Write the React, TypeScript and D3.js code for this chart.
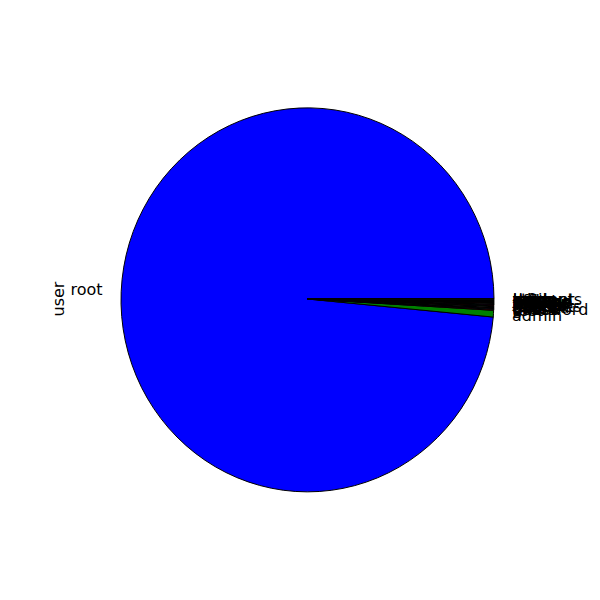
import { useRef, useEffect } from "react";
import * as d3 from "d3";

// usernames and counts (value_counts, descending)
const users = [
  "root", "admin", "test", "password", "guest", "oracle", "user1", "ubuntu",
  "postgres", "support", "ftpuser", "nagios", "git", "mysql", "pi", "ftp",
  "tomcat", "info", "www", "backup", "jenkins", "hadoop", "deploy", "apache",
  "demo", "web", "sales", "office", "john", "mail", "temp", "vagrant",
  "dev", "students", "ts3", "mc",
];
const counts = [
  9850, 56, 8, 7, 6, 5, 5, 4, 4, 4, 3, 3, 3, 3, 3, 3, 3, 2, 2, 2, 2, 2, 2, 2,
  2, 2, 2, 2, 1, 1, 1, 1, 1, 1, 1, 1,
];
const seriesName = "user";

// matplotlib classic colour cycle
const colors = ["#0000ff", "#008000", "#ff0000", "#00bfbf", "#bf00bf", "#bfbf00", "#000000", "#ffffff"];

type Slice = { name: string; value: number };

export default function App() {
  const ref = useRef<SVGSVGElement>(null);

  useEffect(() => {
    if (!ref.current) return;
    const svg = d3.select(ref.current);
    svg.selectAll("*").remove();

    const cx = 307.5;
    const cy = 299;
    const rx = 186.5;
    const ry = 192;

    const data: Slice[] = users.map((u, i) => ({ name: u, value: counts[i] }));

    // start at 3 o'clock and go counterclockwise like matplotlib
    const pie = d3.pie<Slice>()
      .value(d => d.value)
      .sort(null)
      .startAngle(Math.PI / 2)
      .endAngle(Math.PI / 2 - 2 * Math.PI);

    const arcs = pie(data);
    const arc = d3.arc<d3.PieArcDatum<Slice>>().innerRadius(0).outerRadius(1);

    const g = svg.append("g")
      .attr("transform", `translate(${cx}, ${cy}) scale(${rx}, ${ry})`);

    g.selectAll("path")
      .data(arcs)
      .enter()
      .append("path")
      .attr("d", arc)
      .attr("fill", (_, i) => colors[i % colors.length])
      .attr("stroke", "#000")
      .attr("stroke-width", 1)
      .attr("vector-effect", "non-scaling-stroke");

    const labels = svg.append("g")
      .attr("font-family", "DejaVu Sans")
      .attr("font-size", 16)
      .attr("fill", "#000");

    arcs.forEach(a => {
      const mid = (a.startAngle + a.endAngle) / 2;
      const x = cx + Math.sin(mid) * 1.1 * rx;
      const y = cy - Math.cos(mid) * 1.1 * ry;
      labels.append("text")
        .attr("x", x)
        .attr("y", y)
        .attr("text-anchor", x >= cx ? "start" : "end")
        .attr("dominant-baseline", "central")
        .text(a.data.name);
    });

    // series name as y label
    svg.append("text")
      .attr("transform", `translate(58, ${cy}) rotate(-90)`)
      .attr("text-anchor", "middle")
      .attr("dominant-baseline", "central")
      .attr("font-family", "DejaVu Sans")
      .attr("font-size", 16)
      .text(seriesName);
  }, []);

  return (
    <svg
      ref={ref}
      width={600}
      height={600}
      style={{ position: "absolute", left: 0, top: 0, background: "#fff" }}
    />
  );
}
